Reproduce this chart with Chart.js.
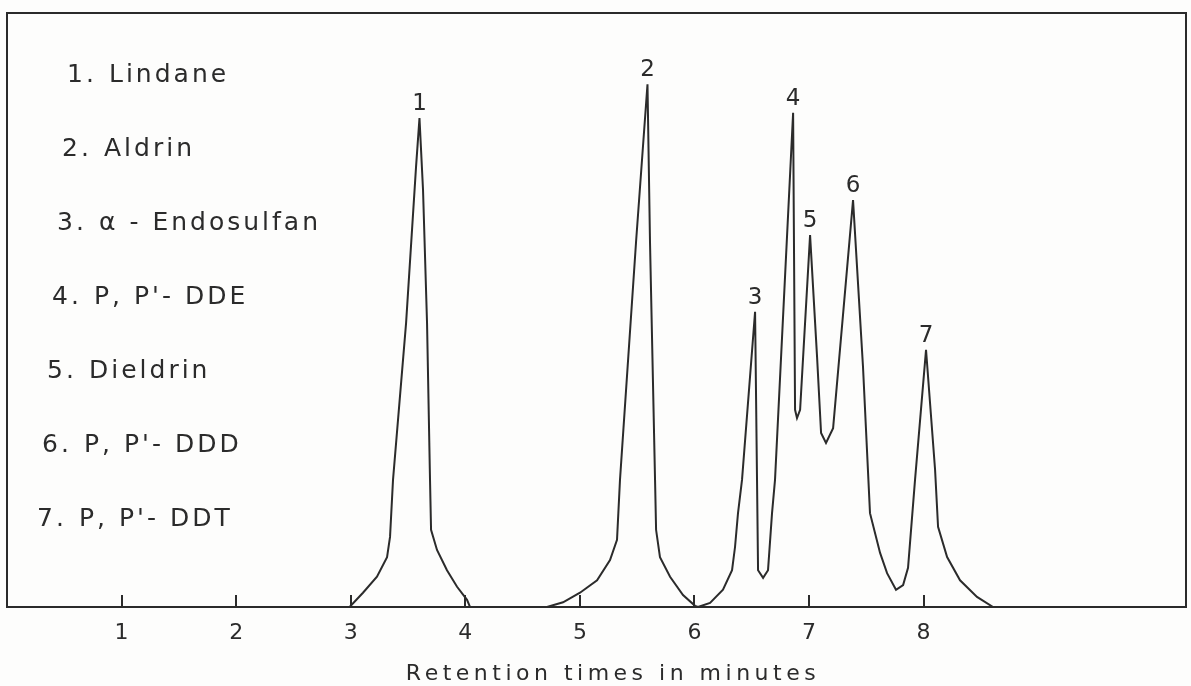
<!DOCTYPE html>
<html>
<head>
<meta charset="utf-8">
<title>Chromatogram of organochlorine pesticides</title>
<script src="https://cdn.jsdelivr.net/npm/chart.js@4.4.1/dist/chart.umd.min.js"></script>
<style>
  html, body { margin: 0; padding: 0; background: #fdfdfc; }
  #wrap { width: 1191px; height: 686px; position: relative; }
</style>
</head>
<body>
<div id="wrap"><canvas id="chart"></canvas></div>
<script>
// Trace of the chromatogram (time in minutes, response in % of full scale)
const retentionTime = [
  2.99, 3.107, 3.229, 3.317, 3.343, 3.369, 3.483, 3.570, 3.600, 3.631, 3.666, 3.692, 3.701, 3.753, 3.840, 3.928, 4.015, 4.041,
  4.713, 4.853, 5.001, 5.150, 5.263, 5.324, 5.350, 5.490, 5.590, 5.612, 5.656, 5.665, 5.699, 5.787, 5.900, 6.005, 6.031,
  6.136, 6.249, 6.328, 6.354, 6.380, 6.415, 6.529, 6.546, 6.555, 6.599, 6.642, 6.677, 6.703, 6.861, 6.878, 6.895, 6.922,
  7.009, 7.070, 7.105, 7.148, 7.210, 7.384, 7.471, 7.532, 7.620, 7.681, 7.759, 7.821, 7.864, 7.925, 8.021, 8.100, 8.126,
  8.205, 8.318, 8.466, 8.606
];
const detectorResponse = [
  0, 2.4, 5.1, 8.4, 11.8, 21.4, 47.8, 74.1, 82.3, 70.2, 47.8, 21.4, 13.0, 9.6, 6.2, 3.4, 1.2, 0,
  0, 0.8, 2.4, 4.5, 7.9, 11.3, 21.4, 61.4, 88.0, 61.4, 21.4, 13.0, 8.4, 5.1, 2.0, 0.2, 0,
  0.7, 2.9, 6.2, 10.1, 15.8, 21.4, 49.7, 21.4, 6.2, 4.9, 6.2, 15.8, 21.4, 83.2, 33.2, 31.8, 33.2,
  62.6, 42.1, 29.3, 27.6, 30.1, 68.5, 40.4, 15.8, 9.1, 5.7, 2.9, 3.7, 6.6, 21.4, 43.3, 23.1, 13.5,
  8.4, 4.5, 1.7, 0
];

// Peak numbers and the times of their tops
const peakNumbers = ["1", "2", "3", "4", "5", "6", "7"];
const peakTimes = [3.600, 5.590, 6.529, 6.861, 7.009, 7.384, 8.021];
const compoundNames = ["Lindane", "Aldrin", "\u03b1 - Endosulfan", "P, P'- DDE", "Dieldrin", "P, P'- DDD", "P, P'- DDT"];

const tickValues = [1, 2, 3, 4, 5, 6, 7, 8];
const axisTitle = "Retention times in minutes";

const ink = "#2b2b2b";

// frame, inner tick marks, peak numbers, compound list and axis title
const overlay = {
    id: "overlay",
    afterDatasetsDraw(chart) {
        const { ctx, chartArea: a, scales: { x, y } } = chart;
        ctx.save();
        ctx.strokeStyle = ink;
        ctx.lineWidth = 2;
        ctx.strokeRect(a.left, a.top, a.right - a.left, a.bottom - a.top);

        tickValues.forEach(v => {
            const px = Math.round(x.getPixelForValue(v));
            ctx.beginPath();
            ctx.moveTo(px, a.bottom);
            ctx.lineTo(px, a.bottom - 12);
            ctx.stroke();
        });

        ctx.fillStyle = ink;
        ctx.font = '23px "DejaVu Sans"';
        ctx.textAlign = "center";
        ctx.textBaseline = "alphabetic";
        peakTimes.forEach((t, i) => {
            const k = retentionTime.indexOf(t);
            ctx.fillText(peakNumbers[i], x.getPixelForValue(t), y.getPixelForValue(detectorResponse[k]) - 8);
        });

        ctx.font = '25px "DejaVu Sans"';
        ctx.letterSpacing = "3px";
        ctx.textAlign = "left";
        ctx.textBaseline = "middle";
        compoundNames.forEach((name, i) => {
            const ty = 75 + 74 * i;
            const nx = 67 - 5 * i;
            ctx.fillText(peakNumbers[i] + ".", nx, ty);
            ctx.fillText(name, nx + 42, ty);
        });

        ctx.font = '22px "DejaVu Sans"';
        ctx.letterSpacing = "4.5px";
        ctx.textAlign = "center";
        ctx.fillText(axisTitle, 613, 674);
        ctx.restore();
    }
};

const points = retentionTime.map((t, i) => ({ x: t, y: detectorResponse[i] }));

new Chart(document.getElementById("chart").getContext("2d"), {
    type: "line",
    data: {
        datasets: [
            {
                label: "Detector response",
                data: points,
                borderColor: ink,
                borderWidth: 2,
                pointRadius: 0,
                tension: 0,
                fill: false,
            },
        ],
    },
    options: {
        responsive: true,
        maintainAspectRatio: false,
        animation: false,
        layout: { padding: { left: 7, right: 5, top: 13, bottom: 0 } },
        plugins: {
            legend: { display: false },
            tooltip: { enabled: false },
        },
        scales: {
            x: {
                type: "linear",
                min: 0,
                max: 10.29,
                grid: { display: false, drawTicks: false },
                border: { display: false },
                ticks: {
                    color: ink,
                    font: { family: "DejaVu Sans", size: 22 },
                    padding: 13,
                    autoSkip: false,
                    maxRotation: 0,
                },
                afterBuildTicks: s => { s.ticks = tickValues.map(v => ({ value: v })); },
                afterFit: s => { s.height = 79; },
            },
            y: { display: false, min: 0, max: 100 },
        },
    },
    plugins: [overlay],
});
</script>
</body>
</html>
